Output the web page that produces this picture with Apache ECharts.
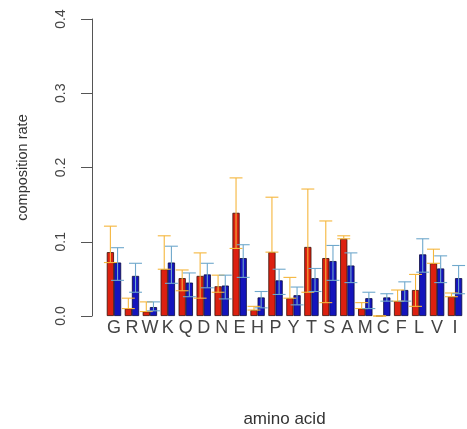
<!DOCTYPE html>
<html>
<head>
<meta charset="utf-8">
<script src="https://cdn.jsdelivr.net/npm/echarts@6/dist/echarts.min.js"></script>
<style>
  html, body { margin: 0; padding: 0; background: #fff; }
  #main { width: 467px; height: 429px; }
</style>
</head>
<body>
<div id="main"></div>
<script>
const aminoAcids = ["G", "R", "W", "K", "Q", "D", "N", "E", "H", "P", "Y", "T", "S", "A", "M", "C", "F", "L", "V", "I"];

// red group: mean, upper and lower whisker
const redMean  = [0.086, 0.010, 0.006, 0.063, 0.051, 0.054, 0.040, 0.139, 0.008, 0.086, 0.024, 0.093, 0.078, 0.104, 0.010, 0.000, 0.020, 0.035, 0.071, 0.026];
const redUpper = [0.121, 0.024, 0.019, 0.108, 0.062, 0.085, 0.055, 0.186, 0.013, 0.160, 0.052, 0.171, 0.128, 0.108, 0.018, 0.000, 0.035, 0.056, 0.090, 0.031];
const redLower = [0.072, 0.010, 0.006, 0.063, 0.034, 0.024, 0.032, 0.091, 0.008, 0.086, 0.024, 0.032, 0.018, 0.104, 0.010, 0.000, 0.020, 0.013, 0.071, 0.026];

// blue group
const blueMean  = [0.072, 0.054, 0.012, 0.072, 0.045, 0.056, 0.041, 0.078, 0.025, 0.048, 0.028, 0.051, 0.074, 0.068, 0.024, 0.025, 0.035, 0.083, 0.064, 0.051];
const blueUpper = [0.092, 0.071, 0.019, 0.094, 0.058, 0.071, 0.055, 0.096, 0.033, 0.063, 0.039, 0.064, 0.095, 0.085, 0.032, 0.030, 0.046, 0.104, 0.081, 0.068];
const blueLower = [0.048, 0.032, 0.007, 0.044, 0.026, 0.038, 0.023, 0.052, 0.011, 0.029, 0.015, 0.033, 0.048, 0.045, 0.010, 0.020, 0.020, 0.059, 0.045, 0.030];

const yTicks = [0.0, 0.1, 0.2, 0.3, 0.4];

const BAR_FRAC = 0.4; // each bar is 40% of the category band

const errorBars = (side, color) => (params, api) => {
  const idx = api.value(0);
  const band = api.size([1, 0])[0];
  const bw = band * BAR_FRAC;
  const cx = api.coord([idx, 0])[0] + side * bw / 2;
  const top = api.coord([idx, api.value(2)])[1];
  const bot = api.coord([idx, api.value(1)])[1];
  const half = bw * 0.9;
  const style = { stroke: color, lineWidth: 1.1 };
  return {
    type: "group",
    children: [
      { type: "line", shape: { x1: cx, y1: top, x2: cx, y2: bot }, style },
      { type: "line", shape: { x1: cx - half, y1: top, x2: cx + half, y2: top }, style },
      { type: "line", shape: { x1: cx - half, y1: bot, x2: cx + half, y2: bot }, style },
    ],
  };
};

const chart = echarts.init(document.getElementById("main"));
chart.setOption({
  animation: false,
  textStyle: { fontFamily: "Liberation Sans, Arial, sans-serif" },
  grid: { left: 105, right: 3, top: 19, bottom: 113, containLabel: false, outerBoundsMode: "none" },
  xAxis: {
    type: "category",
    data: aminoAcids,
    axisLine: { show: false },
    axisTick: { show: false },
    axisLabel: { fontSize: 18, color: "#444", margin: 3, interval: 0 },
    name: "amino acid",
    nameLocation: "middle",
    nameGap: 95,
    nameTextStyle: { fontSize: 17, color: "#333" },
  },
  yAxis: {
    type: "value",
    min: yTicks[0],
    max: yTicks[yTicks.length - 1],
    interval: 0.1,
    offset: 13,
    splitLine: { show: false },
    axisLine: { show: true, lineStyle: { color: "#555", width: 1 } },
    axisTick: { show: true, length: 11, lineStyle: { color: "#555" } },
    axisLabel: {
      rotate: 90,
      fontSize: 14,
      color: "#444",
      margin: 24,
      formatter: v => v.toFixed(1),
    },
    name: "composition rate",
    nameLocation: "middle",
    nameRotate: 90,
    nameGap: 62,
    nameTextStyle: { fontSize: 14.5, color: "#333" },
  },
  series: [
    {
      type: "bar",
      data: redMean,
      barWidth: BAR_FRAC * 100 + "%",
      barGap: "0%",
      itemStyle: { color: "#dc2010", borderColor: "#3a1008", borderWidth: 0.8 },
    },
    {
      type: "bar",
      data: blueMean,
      barWidth: BAR_FRAC * 100 + "%",
      barGap: "0%",
      itemStyle: { color: "#1414bc", borderColor: "#0a0a40", borderWidth: 0.8 },
    },
    {
      type: "custom",
      z: 5,
      renderItem: errorBars(-1, "#f5b63c"),
      data: aminoAcids.map((a, i) => [i, redLower[i], redUpper[i]]),
    },
    {
      type: "custom",
      z: 5,
      renderItem: errorBars(1, "#6fa8cc"),
      data: aminoAcids.map((a, i) => [i, blueLower[i], blueUpper[i]]),
    },
  ],
});
</script>
</body>
</html>
